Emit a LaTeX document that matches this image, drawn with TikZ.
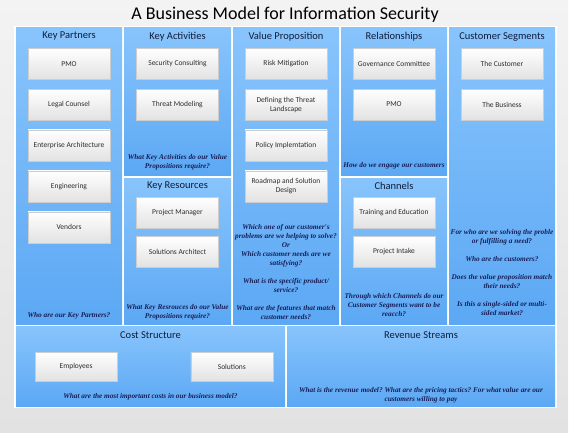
\documentclass[tikz,border=0pt]{standalone}
\usepackage{fontspec}
\setmainfont{Carlito}
\newfontfamily\qfont{Liberation Serif}
\frenchspacing
\usetikzlibrary{positioning, shadows}
\definecolor{celltop}{RGB}{136,196,252}
\definecolor{cellbot}{RGB}{92,168,244}
\definecolor{cardgray}{RGB}{226,226,226}
\definecolor{cardline}{RGB}{205,205,205}
\definecolor{headnavy}{RGB}{16,28,56}
\definecolor{asknavy}{RGB}{24,30,86}
\definecolor{boxtext}{RGB}{45,45,45}
\definecolor{paneltop}{RGB}{243,243,243}
\definecolor{panelbot}{RGB}{226,226,226}

\begin{document}
\begin{tikzpicture}[x=1pt, y=-1pt,
    cell/.style={anchor=north west, top color=celltop, bottom color=cellbot, inner sep=0pt, outer sep=0pt},
    head/.style={font=\fontsize{10.5}{12}\selectfont, text=headnavy, inner sep=1pt},
    card/.style={draw=cardline, line width=0.3pt, top color=white, bottom color=cardgray,
        minimum width=82pt, minimum height=31pt, inner sep=1pt, align=center, text=boxtext,
        font=\fontsize{7.5}{9}\selectfont,
        drop shadow={opacity=0.2, shadow xshift=0.8pt, shadow yshift=-0.8pt}},
    ask/.style={font=\qfont\bfseries\itshape\fontsize{7.3}{9}\selectfont, text=asknavy, align=center, inner sep=0pt}]
    \useasboundingbox (0,0) rectangle (572,436);
    \fill[top color=paneltop, bottom color=panelbot] (0,0) rectangle (568,432);
    \fill[white] (14,26) rectangle (557,408);

    \node(title) [font=\fontsize{18}{20}\selectfont, anchor=base] at (285,19.5) {A Business Model for Information Security};

    %--------------------------------------------------------------------
    \node(kp) [cell, minimum width=106pt, minimum height=296pt] at (16,28) {};
    \node(kpHead) [head, below=3pt of kp.north] {Key Partners};
    \node(kpPMO) [card, below=20pt of kp.north] {PMO};
    \node(kpLegal) [card, below=9.6pt of kpPMO] {Legal Counsel};
    \node(kpEA) [card, below=9.6pt of kpLegal] {Enterprise Architecture};
    \node(kpEng) [card, below=9.6pt of kpEA] {Engineering};
    \node(kpVend) [card, below=9.6pt of kpEng] {Vendors};
    \node(kpAsk) [ask, above=5pt of kp.south] {Who are our Key Partners?};

    %--------------------------------------------------------------------
    \node(ka) [cell, minimum width=107pt, minimum height=147pt] at (124,28) {};
    \node(kaHead) [head, below=3pt of ka.north] {Key Activities};
    \node(kaSec) [card, below=20pt of ka.north] {Security Consulting};
    \node(kaThreat) [card, below=9.6pt of kaSec] {Threat Modeling};
    \node(kaAsk) [ask, above=5pt of ka.south] {What Key Activities do our Value\\ Propositions require?};

    \node(kr) [cell, minimum width=107pt, minimum height=146pt] at (124,178) {};
    \node(krHead) [head, below=3pt of kr.north] {Key Resources};
    \node(krPM) [card, below=19pt of kr.north] {Project Manager};
    \node(krSA) [card, below=8pt of krPM] {Solutions Architect};
    \node(krAsk) [ask, above=4pt of kr.south] {What Key Resrouces do our Value\\ Propositions require?};

    %--------------------------------------------------------------------
    \node(vp) [cell, minimum width=106pt, minimum height=296pt] at (233,28) {};
    \node(vpHead) [head, below=3pt of vp.north] {Value Proposition};
    \node(vpRisk) [card, below=20pt of vp.north] {Risk Mitigation};
    \node(vpLand) [card, below=9.6pt of vpRisk] {Defining the Threat\\ Landscape};
    \node(vpPolicy) [card, below=9.6pt of vpLand] {Policy Implemtation};
    \node(vpRoad) [card, below=9.6pt of vpPolicy] {Roadmap and Solution\\ Design};
    \node(vpAsk) [ask, above=4pt of vp.south] {Which one of our customer's\\ problems are we helping to solve?\\ Or\\ Which customer needs are we\\ satisfying?\\[9pt] What is the specific product/\\ service?\\[9pt] What are the features that match\\ customer needs?};

    %--------------------------------------------------------------------
    \node(rel) [cell, minimum width=106pt, minimum height=147pt] at (341,28) {};
    \node(relHead) [head, below=3pt of rel.north] {Relationships};
    \node(relGov) [card, below=20pt of rel.north] {Governance Committee};
    \node(relPMO) [card, below=9.6pt of relGov] {PMO};
    \node(relAsk) [ask, above=6pt of rel.south] {How do we engage our customers};

    \node(ch) [cell, minimum width=106pt, minimum height=146pt] at (341,178) {};
    \node(chHead) [head, below=3pt of ch.north] {Channels};
    \node(chTrain) [card, below=19pt of ch.north] {Training and Education};
    \node(chIntake) [card, below=8pt of chTrain] {Project Intake};
    \node(chAsk) [ask, above=7pt of ch.south] {Through which Channels do our\\ Customer Segments want to be\\ reacch?};

    %--------------------------------------------------------------------
    \node(cs) [cell, minimum width=106pt, minimum height=296pt] at (449,28) {};
    \node(csHead) [head, below=3pt of cs.north] {Customer Segments};
    \node(csCust) [card, below=20pt of cs.north] {The Customer};
    \node(csBiz) [card, below=9.6pt of csCust] {The Business};
    \node(csAsk) [ask, above=8pt of cs.south] {For who are we solving the proble\\ or fulfilling a need?\\[9pt] Who are the customers?\\[9pt] Does the value proposition match\\ their needs?\\[9pt] Is this a single-sided or multi-\\ sided market?};

    %--------------------------------------------------------------------
    \node(cost) [cell, minimum width=269pt, minimum height=80pt] at (16,326) {};
    \node(costHead) [head, below=4pt of cost.north] {Cost Structure};
    \node(costEmp) [card, minimum height=29pt, below right=26pt and 19pt of cost.north west] {Employees};
    \node(costSol) [card, minimum height=29pt, below left=26pt and 12pt of cost.north east] {Solutions};
    \node(costAsk) [ask, above=6pt of cost.south] {What are the most important costs in our business model?};

    \node(rev) [cell, minimum width=268pt, minimum height=80pt] at (287,326) {};
    \node(revHead) [head, below=4pt of rev.north] {Revenue Streams};
    \node(revAsk) [ask, above=3pt of rev.south] {What is the revenue model? What are the pricing tactics? For what value are our\\ customers willing to pay};
\end{tikzpicture}
\end{document}
